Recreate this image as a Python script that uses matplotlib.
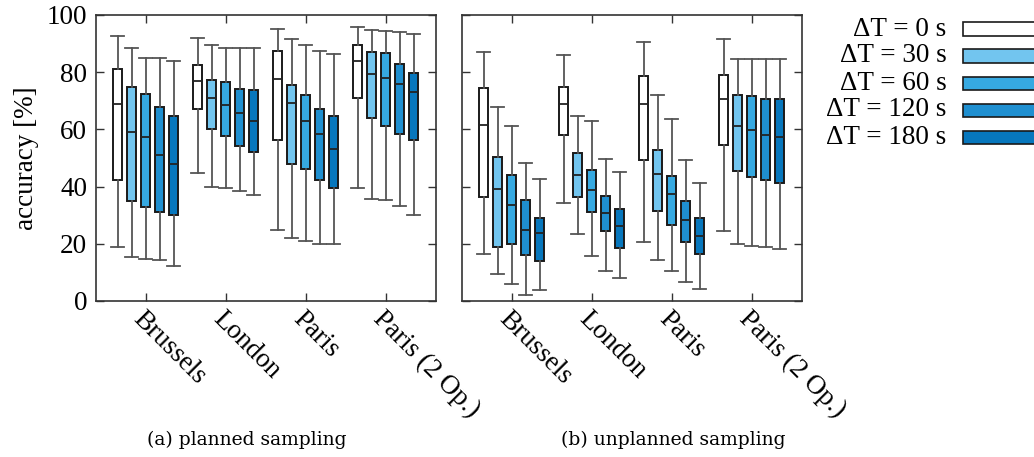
import matplotlib
matplotlib.use("Agg")
import matplotlib.pyplot as plt
from matplotlib.patches import Rectangle

cities = ["Brussels", "London", "Paris", "Paris (2 Op.)"]
delays = ["ΔT = 0 s", "ΔT = 30 s", "ΔT = 60 s", "ΔT = 120 s", "ΔT = 180 s"]
colors = ["#ffffff", "#72c5ef", "#36a9e1", "#1f8fd0", "#0777bd"]
y_ticks = [0, 20, 40, 60, 80, 100]

# planned sampling: [city][delay]
planned_whishi = [[92.8, 88.6, 85.0, 85.0, 83.8], [92.0, 89.6, 88.6, 88.6, 88.6],
                  [95.0, 91.7, 89.4, 87.4, 86.2], [95.9, 94.8, 94.4, 94.2, 93.5]]
planned_q3 = [[81.1, 74.8, 72.3, 67.9, 64.7], [82.4, 77.3, 76.6, 74.2, 73.9],
              [87.3, 75.6, 71.9, 67.0, 64.8], [89.6, 87.1, 86.7, 82.8, 79.8]]
planned_med = [[68.8, 59.0, 57.3, 50.9, 47.8], [76.8, 70.9, 68.4, 65.7, 63.1],
               [77.5, 69.1, 62.8, 58.3, 53.1], [83.9, 79.5, 77.9, 76.0, 73.2]]
planned_q1 = [[42.2, 34.8, 33.0, 31.0, 30.1], [67.0, 60.3, 57.7, 54.2, 52.2],
              [56.3, 47.8, 46.3, 42.2, 39.6], [70.9, 64.1, 61.3, 58.4, 56.2]]
planned_whislo = [[19.0, 15.4, 14.8, 14.5, 12.4], [44.6, 40.0, 39.5, 38.5, 37.2],
                  [24.8, 22.0, 20.9, 19.9, 19.8], [39.6, 35.5, 35.3, 33.3, 30.2]]

# unplanned sampling: [city][delay]
unplanned_whishi = [[87.2, 67.8, 61.2, 48.4, 42.5], [86.1, 64.8, 62.8, 49.7, 45.1],
                    [90.7, 71.9, 63.5, 49.4, 41.3], [91.6, 84.6, 84.6, 84.6, 84.6]]
unplanned_q3 = [[74.6, 50.2, 43.9, 35.3, 29.1], [74.8, 51.7, 45.7, 36.6, 32.2],
                [78.6, 52.9, 43.8, 34.8, 29.1], [79.1, 72.1, 71.8, 70.5, 70.5]]
unplanned_med = [[61.7, 39.0, 33.4, 24.7, 23.7], [68.8, 44.1, 38.9, 30.7, 26.3],
                 [68.8, 44.4, 37.4, 28.2, 22.7], [70.7, 61.3, 59.7, 58.2, 57.5]]
unplanned_q1 = [[36.2, 19.0, 19.8, 16.1, 13.9], [58.2, 36.2, 31.0, 24.5, 18.6],
                [49.2, 31.4, 26.5, 20.6, 16.3], [54.4, 45.5, 43.4, 42.2, 41.4]]
unplanned_whislo = [[16.4, 9.3, 5.8, 2.0, 3.7], [34.3, 23.5, 15.7, 10.4, 8.0],
                    [20.6, 14.2, 10.6, 6.8, 4.1], [24.4, 19.9, 19.3, 18.8, 18.3]]

SERIF = ["Liberation Serif", "DejaVu Serif"]
FS = 19.5
W, H = 1034, 457
fig = plt.figure(figsize=(W / 100, H / 100), dpi=100)

ax_a = fig.add_axes([95.7 / W, (H - 301) / H, 340 / W, 286 / H])
ax_b = fig.add_axes([461.7 / W, (H - 301) / H, 340 / W, 286 / H])

spacing = 0.175
box_w = 0.109
cap_w = 0.16


def draw(ax, whislo, q1, med, q3, whishi, show_y):
    for k in range(len(delays)):
        stats = []
        pos = []
        for c in range(len(cities)):
            stats.append(dict(whislo=whislo[c][k], q1=q1[c][k], med=med[c][k],
                              q3=q3[c][k], whishi=whishi[c][k], fliers=[]))
            pos.append(c + 1 + (k - 2) * spacing)
        ax.bxp(stats, positions=pos, widths=box_w, capwidths=cap_w,
               patch_artist=True, showfliers=False,
               boxprops=dict(facecolor=colors[k], edgecolor="#1a1a1a", linewidth=1.4),
               whiskerprops=dict(color="#555555", linewidth=1.3),
               capprops=dict(color="#555555", linewidth=1.3),
               medianprops=dict(color="#222222", linewidth=1.3),
               manage_ticks=False)
    ax.set_xlim(0.375, 4.625)
    ax.set_ylim(0, 100)
    ax.set_yticks(y_ticks)
    ax.set_xticks(range(1, len(cities) + 1))
    ax.set_xticklabels(cities, rotation=-45, ha="left", va="top",
                       rotation_mode="anchor", fontfamily=SERIF, fontsize=FS)
    ax.tick_params(direction="in", length=6, width=1.0, color="#333333",
                   top=True, right=True, labelsize=FS, pad=4)
    ax.tick_params(axis="y", pad=6)
    for lab in ax.get_yticklabels():
        lab.set_fontfamily(SERIF)
    if not show_y:
        ax.tick_params(axis="y", labelleft=False)
    for s in ax.spines.values():
        s.set_color("#333333")
        s.set_linewidth(1.2)


draw(ax_a, planned_whislo, planned_q1, planned_med, planned_q3, planned_whishi, True)
draw(ax_b, unplanned_whislo, unplanned_q1, unplanned_med, unplanned_q3, unplanned_whishi, False)

ax_a.set_ylabel("accuracy [%]", fontfamily=SERIF, fontsize=FS, labelpad=6)

# legend
row_y = [29, 56, 83, 110, 137]
for lab, col, yy in zip(delays, colors, row_y):
    fig.text(946.7 / W, (H - yy) / H, lab, ha="right", va="center",
             fontfamily=SERIF, fontsize=FS)
    fig.patches.append(Rectangle((963 / W, (H - yy - 6.5) / H), 80 / W, 13 / H,
                                 transform=fig.transFigure, facecolor=col,
                                 edgecolor="#1a1a1a", linewidth=1.2))

fig.text(246.5 / W, (H - 440) / H, "(a) planned sampling", ha="center", va="center",
         fontfamily="DejaVu Serif", fontsize=13.5)
fig.text(673.5 / W, (H - 440) / H, "(b) unplanned sampling", ha="center", va="center",
         fontfamily="DejaVu Serif", fontsize=13.5)

fig.savefig("out.png", dpi=100)
